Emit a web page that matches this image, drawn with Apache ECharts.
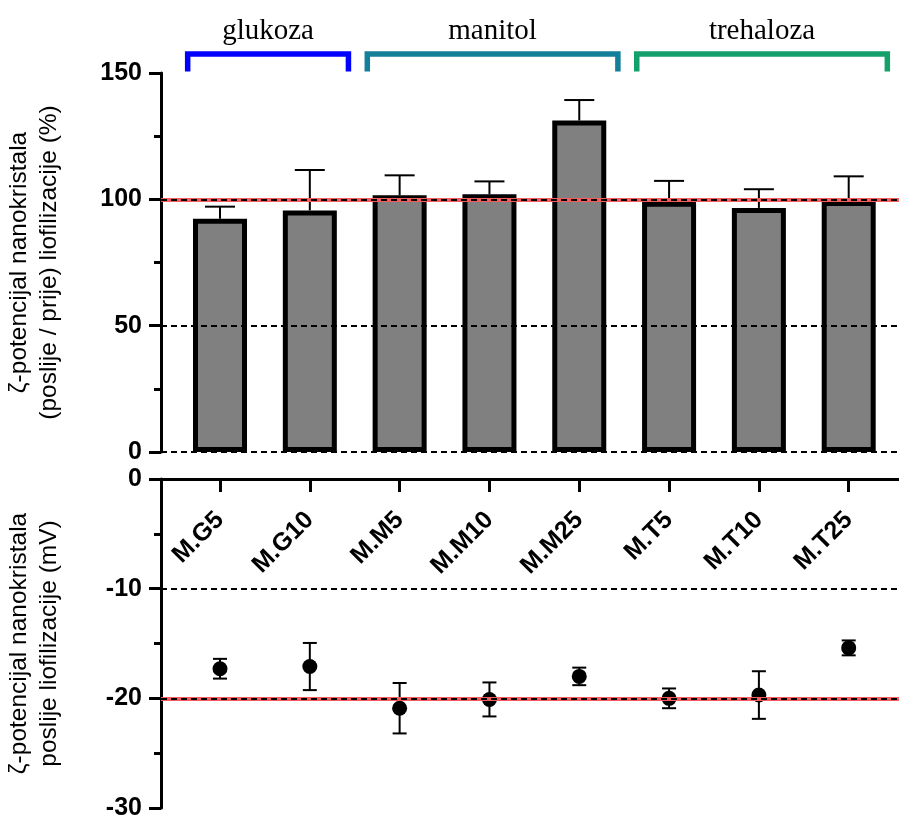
<!DOCTYPE html>
<html><head><meta charset="utf-8">
<script src="https://cdn.jsdelivr.net/npm/echarts@6/dist/echarts.min.js"></script>
<style>html,body{margin:0;padding:0;background:#fff}#c{width:899px;height:816px}</style>
</head><body><div id="c"></div>
<script>
const categories = ['M.G5','M.G10','M.M5','M.M10','M.M25','M.T5','M.T10','M.T25'];
const ratioValues = [92.3, 95.6, 101.6, 102.0, 131.2, 99.0, 96.6, 99.3];
const ratioErrors = [4.8, 16.0, 7.9, 5.1, 8.1, 8.3, 7.4, 9.8];
const zetaValues = [-17.3, -17.1, -20.9, -20.1, -18.0, -20.0, -19.7, -15.4];
const zetaErrors = [0.9, 2.15, 2.3, 1.55, 0.8, 0.9, 2.17, 0.68];
const groupNames = ['glukoza','manitol','trehaloza'];
const groupFirst = [0, 2, 5];
const groupLast = [1, 4, 7];
const groupColors = ['#0000ff', '#137f99', '#14a06c'];
const topDashedLevels = [0, 50];
const topRefLevel = 100;
const bottomDashedLevels = [-10];
const bottomRefLevel = -20;

const FONT = '"Liberation Sans", Arial, sans-serif';
const idx = categories.map((c, i) => i);
const XMIN = -0.657, XMAX = 7.56;

const chart = echarts.init(document.getElementById('c'), null, {renderer: 'canvas'});

const blackDash = {color: '#000', type: [6, 4], width: 2.2};
const redLine = {color: '#f55b5b', type: 'solid', width: 4};

function yAxisBase(extra) {
  return Object.assign({
    type: 'value',
    axisLine: {show: true, onZero: false, lineStyle: {color: '#000', width: 3}},
    axisTick: {show: true, length: 12, lineStyle: {color: '#000', width: 3}},
    minorTick: {show: true, splitNumber: 2, length: 7, lineStyle: {color: '#000', width: 3}},
    splitLine: {show: false},
    axisLabel: {color: '#000', fontFamily: FONT, fontWeight: 'bold', fontSize: 25, margin: 19},
    nameLocation: 'middle',
    nameRotate: 90,
    nameTextStyle: {color: '#000', fontFamily: FONT, fontSize: 24.5, lineHeight: 30, align: 'center'}
  }, extra);
}

const option = {
  animation: false,
  backgroundColor: '#fff',
  grid: [
    {left: 161, right: 0, top: 73, height: 379, outerBoundsMode: 'none', containLabel: false},
    {left: 161, right: 0, top: 479, height: 329, outerBoundsMode: 'none', containLabel: false},
    {left: 161, right: 0, top: 400, height: 79, outerBoundsMode: 'none', containLabel: false}
  ],
  xAxis: [
    {type: 'value', gridIndex: 0, min: XMIN, max: XMAX, show: false, splitLine: {show: false}},
    {type: 'value', gridIndex: 1, min: XMIN, max: XMAX, show: false, splitLine: {show: false}},
    {type: 'value', gridIndex: 2, min: XMIN, max: XMAX, position: 'bottom',
      axisLine: {show: true, onZero: false, lineStyle: {color: '#000', width: 3}},
      axisTick: {show: true, length: 13, customValues: idx, lineStyle: {color: '#000', width: 3}},
      axisLabel: {show: true, customValues: idx, rotate: 45, margin: 37,
        formatter: v => categories[Math.round(v)] || '',
        color: '#000', fontFamily: FONT, fontWeight: 'bold', fontSize: 25},
      splitLine: {show: false}}
  ],
  yAxis: [
    yAxisBase({gridIndex: 0, min: 0, max: 150, interval: 50,
      name: 'ζ-potencijal nanokristala\n(poslije / prije) liofilizacije (%)', nameGap: 97}),
    yAxisBase({gridIndex: 1, min: -30, max: 0, interval: 10,
      name: 'ζ-potencijal nanokristala\nposlije liofilizacije (mV)', nameGap: 97}),
    {type: 'value', gridIndex: 2, show: false, min: 0, max: 1, splitLine: {show: false}}
  ],
  series: [
    {
      type: 'bar', xAxisIndex: 0, yAxisIndex: 0,
      data: ratioValues.map((v, i) => [i, v]),
      barWidth: 54,
      itemStyle: {color: '#808080', borderColor: '#000', borderWidth: 5},
      markLine: {silent: true, symbol: 'none', z: 6, label: {show: false},
        lineStyle: blackDash,
        data: topDashedLevels.concat([topRefLevel]).map(v => ({yAxis: v}))},
      z: 2
    },
    {
      type: 'custom', xAxisIndex: 0, yAxisIndex: 0,
      data: ratioValues.map((v, i) => [i, v, ratioErrors[i]]),
      encode: {x: 0, y: 1},
      renderItem: function (params, api) {
        const x = api.value(0), v = api.value(1), e = api.value(2);
        const p0 = api.coord([x, v]);
        const p1 = api.coord([x, v + e]);
        const st = {stroke: '#000', lineWidth: 2};
        return {type: 'group', children: [
          {type: 'line', shape: {x1: p0[0], y1: p0[1], x2: p1[0], y2: p1[1]}, style: st},
          {type: 'line', shape: {x1: p1[0] - 15, y1: p1[1], x2: p1[0] + 15, y2: p1[1]}, style: st}
        ]};
      },
      markLine: {silent: true, symbol: 'none', z: 5, label: {show: false},
        lineStyle: redLine, data: [{yAxis: topRefLevel}]},
      z: 1
    },
    {
      type: 'custom', xAxisIndex: 0, yAxisIndex: 0, clip: false, silent: true,
      data: groupNames.map((n, i) => [groupFirst[i], groupLast[i], i]),
      encode: {x: [0, 1]},
      renderItem: function (params, api) {
        const i = api.value(2);
        const a = api.coord([api.value(0) - 0.36, 157.5]);
        const b = api.coord([api.value(1) + 0.43, 157.5]);
        const leg = api.coord([0, 150.6])[1];
        const txt = api.coord([0, 160.6])[1];
        return {type: 'group', children: [
          {type: 'polyline', shape: {points: [[a[0], leg], [a[0], a[1]], [b[0], b[1]], [b[0], leg]]},
            style: {stroke: groupColors[i], lineWidth: 5.5, fill: null, lineJoin: 'miter'}},
          {type: 'text', style: {text: groupNames[i], x: (a[0] + b[0]) / 2, y: txt,
            align: 'center', verticalAlign: 'bottom',
            font: '29px "Liberation Serif", "Times New Roman", serif', fill: '#000'}}
        ]};
      },
      z: 3
    },
    {
      type: 'scatter', xAxisIndex: 1, yAxisIndex: 1,
      data: zetaValues.map((v, i) => [i, v]),
      symbol: 'circle', symbolSize: 15,
      itemStyle: {color: '#000', opacity: 1},
      markLine: {silent: true, symbol: 'none', z: 6, label: {show: false},
        lineStyle: blackDash,
        data: bottomDashedLevels.concat([bottomRefLevel]).map(v => ({yAxis: v}))},
      z: 4
    },
    {
      type: 'custom', xAxisIndex: 1, yAxisIndex: 1,
      data: zetaValues.map((v, i) => [i, v, zetaErrors[i]]),
      encode: {x: 0, y: 1},
      renderItem: function (params, api) {
        const x = api.value(0), v = api.value(1), e = api.value(2);
        const p0 = api.coord([x, v - e]);
        const p1 = api.coord([x, v + e]);
        const st = {stroke: '#000', lineWidth: 2};
        return {type: 'group', children: [
          {type: 'line', shape: {x1: p0[0], y1: p0[1], x2: p1[0], y2: p1[1]}, style: st},
          {type: 'line', shape: {x1: p0[0] - 7, y1: p0[1], x2: p0[0] + 7, y2: p0[1]}, style: st},
          {type: 'line', shape: {x1: p1[0] - 7, y1: p1[1], x2: p1[0] + 7, y2: p1[1]}, style: st}
        ]};
      },
      markLine: {silent: true, symbol: 'none', z: 5, label: {show: false},
        lineStyle: redLine, data: [{yAxis: bottomRefLevel}]},
      z: 3
    }
  ]
};
chart.setOption(option);
</script>
</body></html>
